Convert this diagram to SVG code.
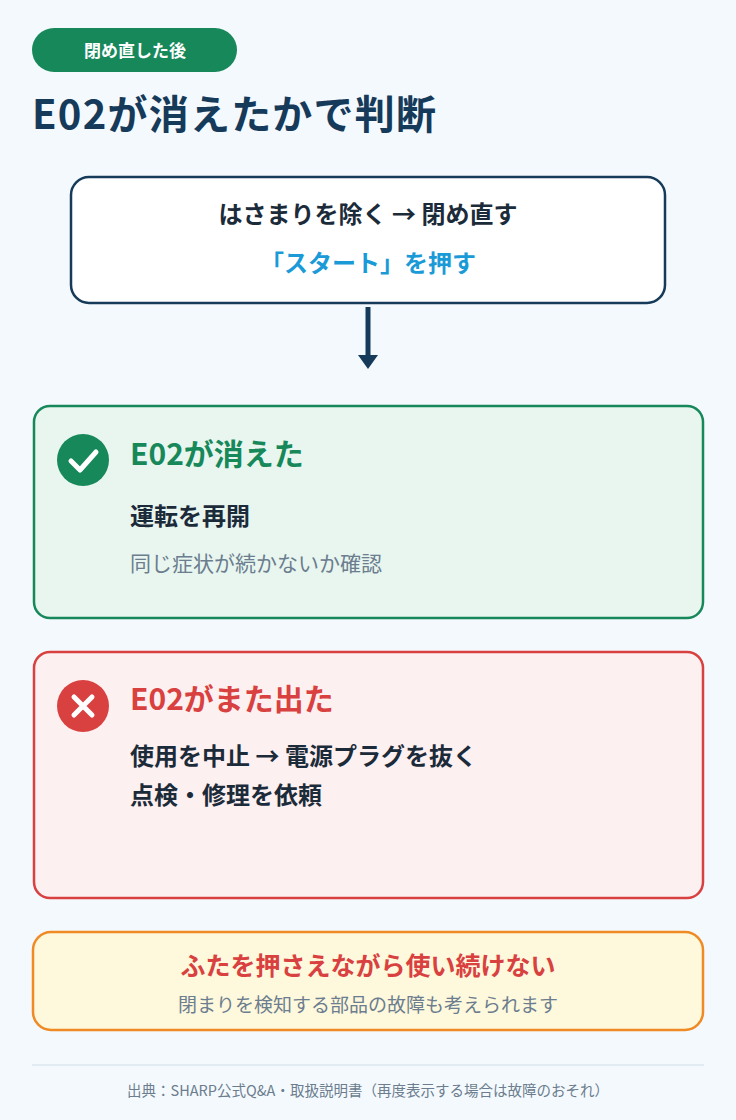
<svg xmlns="http://www.w3.org/2000/svg" width="736" height="1120" viewBox="0 0 736 1120">
<style>
text{font-family:"Noto Sans CJK JP","Noto Sans",sans-serif}
.b{font-weight:700}
.m{text-anchor:middle}
</style>
<defs><marker id="ah" markerWidth="14" markerHeight="20" refX="1" refY="10" orient="auto" markerUnits="userSpaceOnUse" viewBox="0 0 14 20"><path d="M0,0 L14,10 L0,20Z" fill="#163a5a"/></marker></defs>
<rect width="736" height="1120" fill="#f4f9fd"/>
<g id="badge"><rect x="32" y="28" width="205" height="44" rx="22" fill="#17885a"/><text x="135" y="57" class="m b" font-size="17" fill="#fff">閉め直した後</text></g>
<text x="32" y="129" class="b" font-size="40" fill="#163a5a" textLength="404">E02が消えたかで判断</text>
<g id="step"><rect x="71" y="177" width="594" height="126" rx="18" fill="#fff" stroke="#163a5a" stroke-width="2.5"/>
<text x="368" y="223" class="m b" font-size="24" fill="#1c2b3a">はさまりを除く → 閉め直す</text>
<text x="368" y="272" class="m b" font-size="24" fill="#1a9ad6">「スタート」を押す</text></g>
<g id="connectors"><line x1="368" y1="307" x2="368" y2="356" stroke="#163a5a" stroke-width="5" marker-end="url(#ah)"/></g>
<g id="ok"><rect x="34" y="406" width="669" height="212" rx="16" fill="#e8f6ef" stroke="#17885a" stroke-width="2.5"/>
<circle cx="83" cy="460" r="26" fill="#17885a"/><path d="M71,461 L80,470 L96,452" fill="none" stroke="#fff" stroke-width="5" stroke-linecap="round" stroke-linejoin="round"/>
<text x="130" y="465" class="b" font-size="30" fill="#17885a">E02が消えた</text>
<text x="130" y="525" class="b" font-size="24" fill="#1c2b3a">運転を再開</text>
<text x="130" y="571" font-size="21" fill="#6b7d8e">同じ症状が続かないか確認</text></g>
<g id="ng"><rect x="34" y="652" width="669" height="246" rx="16" fill="#fdf0f0" stroke="#d94040" stroke-width="2.5"/>
<circle cx="83" cy="706" r="26" fill="#d94040"/><path d="M74,697 L92,715 M92,697 L74,715" stroke="#fff" stroke-width="5" stroke-linecap="round"/>
<text x="130" y="710" class="b" font-size="30" fill="#d94040">E02がまた出た</text>
<text x="130" y="765" class="b" font-size="24" fill="#1c2b3a">使用を中止 → 電源プラグを抜く</text>
<text x="130" y="804" class="b" font-size="24" fill="#1c2b3a">点検・修理を依頼</text></g>
<g id="warn"><rect x="33" y="932" width="670" height="98" rx="18" fill="#fef8dc" stroke="#f08a24" stroke-width="2.5"/>
<text x="368" y="975" class="m b" font-size="25" fill="#d94040">ふたを押さえながら使い続けない</text>
<text x="368" y="1012" class="m" font-size="19" fill="#6b7d8e">閉まりを検知する部品の故障も考えられます</text></g>
<line x1="32" y1="1065" x2="704" y2="1065" stroke="#d2dde8" stroke-width="1"/>
<text x="368" y="1096" class="m" font-size="14.5" fill="#6b7d8e">出典：SHARP公式Q&amp;A・取扱説明書（再度表示する場合は故障のおそれ）</text>
</svg>
